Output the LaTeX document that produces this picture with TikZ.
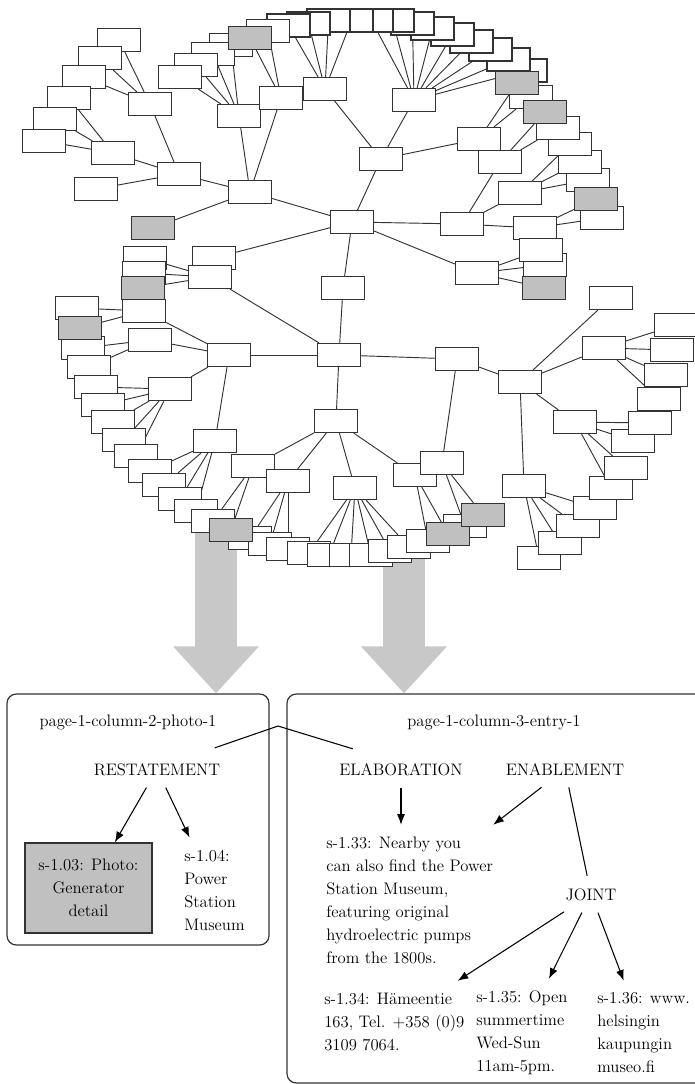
\documentclass[tikz,border=0pt]{standalone}
\usetikzlibrary{arrows.meta,calc}
\definecolor{boxgrey}{HTML}{C0C0C0}
\definecolor{arrowgrey}{HTML}{C8C8C8}
\definecolor{edgegrey}{HTML}{333333}
\pgfdeclarelayer{back}
\pgfdeclarelayer{edges}
\pgfsetlayers{back,edges,main}
\begin{document}
\begin{tikzpicture}
            [x=0.75pt, y=-0.75pt,
             box/.style = {draw=edgegrey, fill=white, line width=0.9pt, minimum width=32.25pt, minimum height=17.25pt, inner sep=0pt},
             greybox/.style = {box, fill=boxgrey},
             edge/.style = {draw=edgegrey, line width=0.7pt},
             panel/.style = {draw=edgegrey, line width=0.9pt, rounded corners=7pt, inner sep=0pt},
             txt/.style = {font=\fontsize{12.5}{17.25}\selectfont, inner xsep=0pt, inner ysep=9pt},
             rel/.style = {txt, inner xsep=1pt},
             arr/.style = {line width=0.8pt, -{Latex[length=8pt, width=6pt]}},
             bigarrow/.style = {draw=arrowgrey, line width=31.5pt, -{Triangle[length=35.25pt, width=62.25pt]}}]
            \useasboundingbox (0,0) rectangle (694,1084);
            \node[box] (R) at (339,355) {};
            \foreach \n/\x/\y/\p in {N1/343/288/R, E/352/222/N1, C/250/192/E, B/179/174/C, A1/150/104/B, A2/113/153/B,
                D1/239/116/C, D2/281/98/C, F/381/159/E, I/414/100/F, J/325/89/F, K/479/139/F,
                G/462/224/E, L/500/162/G, M/520/193/G, Nn/535/228/G, H/477/273/E, W/214/258/E,
                V/210/277/R, N5/229/355/R, U1/144/311/N5, U2/150/340/N5, U3/170/389/N5, U4/215/441/N5,
                N6/336/421/R, T1/253/466/N6, T2/288/481/N6, S/355/488/N6, T3/415/475/N6,
                N2/457/359/R, N4/442/463/N2, N3/520/382/N2, O/604/348/N3, P/575/422/N3, Q/524/486/N3}
            {
                \node[box] (\n) at (\x,\y) {};
                \begin{pgfonlayer}{edges}
                    \draw[edge] (\p) -- (\n);
                \end{pgfonlayer}
            }
            \foreach \x/\y/\p [count=\i] in {539/558/Q, 560/543/Q, 578/526/Q, 595/508/Q,
                611/488/P, 626/468/P, 633/441/P, 650/423/P,
                659/399/O, 666/375/O, 672/350/O, 676/325/O, 611/298/N3,
                545/265/H, 541/250/H, 602/218/Nn, 588/180/M, 580/162/M, 570/144/M, 558/128/L, 531/97/K,
                525.5/70.5/I, 508.5/59.5/I, 490.5/49.5/I, 471.5/41.5/I, 452.5/34.5/I, 432.5/28.5/I, 412.5/23.5/I, 392.5/20.5/I, 371.5/20.5/I,
                351.5/20.5/J, 328.5/20.5/J, 308.5/23.5/J, 288.5/25.5/J,
                268/31/D2, 231/45/D1, 213/54/D1, 196/65/D1, 180/77/D1,
                119/40/A1, 100/58/A1, 84/77/A1, 69/98/A2, 55/119/A2, 44/141/A2, 96/189/B,
                145/258/V, 144/273/V, 77/308/U1, 83/348/U2, 89/367/U2,
                96/387/U3, 103/405/U3, 113/422/U3, 124/440/U3, 136/456/U3,
                150/471/U4, 164/485/U4, 180/499/U4, 196/511/U4, 213/521/T1,
                250/538/T2, 270/544/T2, 288/549/T2,
                309/553/S, 329/555/S, 351/555/S, 371/555/S, 390/551/S, 409/547/S,
                428/541/T3, 465/526/N4}
            {
                \node[box] (w\i) at (\x,\y) {};
                \begin{pgfonlayer}{edges}
                    \draw[edge] (\p) -- (w\i);
                \end{pgfonlayer}
            }
            \foreach \x/\y/\p [count=\i] in {544/288/H, 596/199/Nn, 545/112/L, 517/83/K, 250/38/D2, 153/228/C,
                143/288/V, 80/328/U1, 231/530/T1, 448/534/T3, 483/515/N4}
            {
                \node[greybox] (g\i) at (\x,\y) {};
                \begin{pgfonlayer}{edges}
                    \draw[edge] (\p) -- (g\i);
                \end{pgfonlayer}
            }
            \node[panel, minimum width=196.5pt, minimum height=188.25pt] (leftpanel) at (138,819.5) {};
            \node[panel, minimum width=324.75pt, minimum height=291.75pt] (rightpanel) at (503.5,888.5) {};
            \begin{pgfonlayer}{back}
                \coordinate (tail1) at (216,520);
                \coordinate (tail2) at (404,545);
                \draw[bigarrow] (tail1) -- (tail1 |- leftpanel.north);
                \draw[bigarrow] (tail2) -- (tail2 |- rightpanel.north);
            \end{pgfonlayer}
            \node[txt, anchor=base] (photo) at (128,726) {page-1-column-2-photo-1};
            \node[rel, anchor=base] (restatement) at (157,775) {RESTATEMENT};
            \node[draw=edgegrey, fill=boxgrey, line width=1pt, font=\fontsize{12.5}{17.25}\selectfont, align=center, inner sep=0pt,
                  minimum width=95.25pt, minimum height=67.5pt] (s103) at (88.5,888) {s-1.03: Photo:\\Generator\\detail};
            \node[txt, anchor=west, align=left] (s104) at (184,890) {s-1.04:\\Power\\Station\\Museum};
            \node[txt, anchor=base] (entry) at (494,726) {page-1-column-3-entry-1};
            \node[rel, anchor=base] (elaboration) at (401,775) {ELABORATION};
            \node[rel, anchor=base] (enablement) at (565,775) {ENABLEMENT};
            \node[txt, anchor=west, align=left] (s133) at (326,900.5) {s-1.33: Nearby you\\can also find the Power\\Station Museum,\\featuring original\\hydroelectric pumps\\from the 1800s.};
            \node[rel, anchor=base] (joint) at (591,900) {JOINT};
            \node[txt, anchor=west, align=left] (s134) at (324,1022) {s-1.34: Hämeentie\\163, Tel. +358 (0)9\\3109 7064.};
            \node[txt, anchor=west, align=left] (s135) at (476,1033) {s-1.35: Open\\summertime\\Wed-Sun\\11am-5pm.};
            \node[txt, anchor=west, align=left] (s136) at (597,1033) {s-1.36: www.\\helsingin\\kaupungin\\museo.fi};
            \coordinate (apex) at (278,726);
            \draw[line width=0.8pt] ($(restatement.north east)+(-7,-3)$) -- (apex) -- ($(elaboration.north west)+(15,-2)$);
            \draw[arr] (restatement) -- (s103);
            \draw[arr] (restatement) -- (s104);
            \draw[arr] (elaboration) -- (elaboration |- s133.north);
            \draw[arr] (enablement) -- (s133.north east);
            \draw[line width=0.8pt] (enablement) -- (joint);
            \draw[arr] (joint) -- (s134);
            \draw[arr] (joint) -- (s135);
            \draw[arr] (joint) -- (s136);
        \end{tikzpicture}
\end{document}
